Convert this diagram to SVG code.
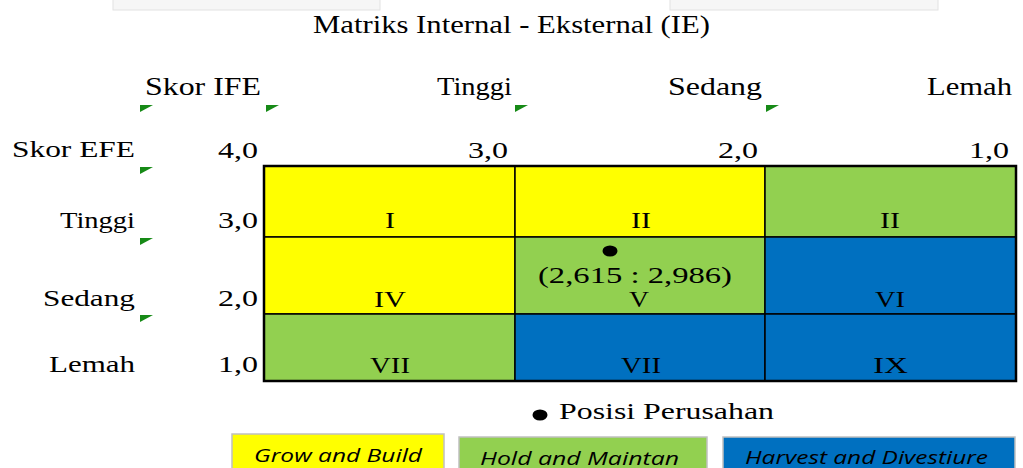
<svg xmlns="http://www.w3.org/2000/svg" width="1023" height="468" viewBox="0 0 1023 468">
  <style>
    .serif { font-family: "Liberation Serif", "Times New Roman", serif; fill: #000; }
    .t-title { font-size: 25px; }
    .t-head { font-size: 25px; }
    .t-axis { font-size: 23px; }
    .t-cell { font-size: 24px; }
    .legend { font-family: "Open Sans", "Liberation Sans", sans-serif; font-style: italic; font-size: 18px; fill: #000; }
    .mark { fill: #168a16; }
    .cell { stroke: #000; stroke-width: 1.5; }
    .yellow { fill: #ffff00; }
    .green { fill: #92d050; }
    .blue { fill: #0070c0; }
    .key { stroke: #c0c0c0; stroke-width: 1.5; }
  </style>
  <defs>
    <path id="tick" d="M0 0 H13 L0 7 Z"/>
  </defs>

  <rect width="1023" height="468" fill="#ffffff"/>

  <!-- faint frames at the top edge -->
  <g id="top-frames" fill="#f6f6f6" stroke="#e2e2e2" stroke-width="1">
    <rect x="113" y="-2" width="267" height="12"/>
    <rect x="670" y="-2" width="268" height="12"/>
  </g>

  <!-- title -->
  <text id="title" class="serif t-title" x="313" y="33" textLength="397" lengthAdjust="spacingAndGlyphs">Matriks Internal - Eksternal (IE)</text>

  <!-- IFE axis header -->
  <g id="ife-axis" class="serif t-head">
    <text x="145" y="95" textLength="116" lengthAdjust="spacingAndGlyphs">Skor IFE</text>
    <text x="437" y="95" textLength="75" lengthAdjust="spacingAndGlyphs">Tinggi</text>
    <text x="668" y="95" textLength="94" lengthAdjust="spacingAndGlyphs">Sedang</text>
    <text x="927" y="95" textLength="85" lengthAdjust="spacingAndGlyphs">Lemah</text>
  </g>

  <!-- score scale -->
  <g id="scale" class="serif t-axis">
    <text x="12" y="157" textLength="123" lengthAdjust="spacingAndGlyphs">Skor EFE</text>
    <text x="218" y="158" textLength="40" lengthAdjust="spacingAndGlyphs">4,0</text>
    <text x="468" y="158" textLength="40" lengthAdjust="spacingAndGlyphs">3,0</text>
    <text x="718" y="158" textLength="40" lengthAdjust="spacingAndGlyphs">2,0</text>
    <text x="969" y="158" textLength="40" lengthAdjust="spacingAndGlyphs">1,0</text>
  </g>

  <!-- EFE row labels -->
  <g id="efe-axis" class="serif t-axis">
    <text x="60" y="228" textLength="75" lengthAdjust="spacingAndGlyphs">Tinggi</text>
    <text x="218" y="228" textLength="40" lengthAdjust="spacingAndGlyphs">3,0</text>
    <text x="43" y="306" textLength="92" lengthAdjust="spacingAndGlyphs">Sedang</text>
    <text x="218" y="306" textLength="40" lengthAdjust="spacingAndGlyphs">2,0</text>
    <text x="49" y="372" textLength="86" lengthAdjust="spacingAndGlyphs">Lemah</text>
    <text x="218" y="372" textLength="40" lengthAdjust="spacingAndGlyphs">1,0</text>
  </g>

  <!-- comment markers -->
  <g id="markers" class="mark">
    <use href="#tick" x="140" y="105"/>
    <use href="#tick" x="266" y="105"/>
    <use href="#tick" x="515" y="105"/>
    <use href="#tick" x="766" y="105"/>
    <use href="#tick" x="140" y="167"/>
    <use href="#tick" x="140" y="238"/>
    <use href="#tick" x="140" y="315"/>
  </g>

  <!-- IE matrix cells -->
  <g id="cell-I"><rect class="cell yellow" x="264" y="166" width="251" height="71"/><text class="serif t-cell" x="385" y="228" textLength="10" lengthAdjust="spacingAndGlyphs">I</text></g>
  <g id="cell-II"><rect class="cell yellow" x="515" y="166" width="250" height="71"/><text class="serif t-cell" x="631" y="228" textLength="20" lengthAdjust="spacingAndGlyphs">II</text></g>
  <g id="cell-III"><rect class="cell green" x="765" y="166" width="251" height="71"/><text class="serif t-cell" x="880" y="228" textLength="20" lengthAdjust="spacingAndGlyphs">II</text></g>
  <g id="cell-IV"><rect class="cell yellow" x="264" y="237" width="251" height="77"/><text class="serif t-cell" x="374" y="307" textLength="32" lengthAdjust="spacingAndGlyphs">IV</text></g>
  <g id="cell-V"><rect class="cell green" x="515" y="237" width="250" height="77"/><text class="serif t-cell" x="629" y="307" textLength="20" lengthAdjust="spacingAndGlyphs">V</text></g>
  <g id="cell-VI"><rect class="cell blue" x="765" y="237" width="251" height="77"/><text class="serif t-cell" x="875" y="307" textLength="30" lengthAdjust="spacingAndGlyphs">VI</text></g>
  <g id="cell-VII"><rect class="cell green" x="264" y="314" width="251" height="67"/><text class="serif t-cell" x="370" y="373" textLength="40" lengthAdjust="spacingAndGlyphs">VII</text></g>
  <g id="cell-VIII"><rect class="cell blue" x="515" y="314" width="250" height="67"/><text class="serif t-cell" x="621" y="373" textLength="40" lengthAdjust="spacingAndGlyphs">VII</text></g>
  <g id="cell-IX"><rect class="cell blue" x="765" y="314" width="251" height="67"/><text class="serif t-cell" x="873" y="373" textLength="35" lengthAdjust="spacingAndGlyphs">IX</text></g>

  <!-- outer frame of the matrix -->
  <rect id="matrix-frame" x="264" y="166" width="752" height="215" fill="none" stroke="#000" stroke-width="2.5"/>

  <!-- company position -->
  <g id="position">
    <ellipse cx="610" cy="251" rx="7.5" ry="5.5" fill="#000"/>
    <text class="serif t-axis" x="538" y="283" textLength="194" lengthAdjust="spacingAndGlyphs">(2,615 : 2,986)</text>
  </g>

  <!-- legend -->
  <g id="legend-position">
    <ellipse cx="540" cy="415" rx="7.5" ry="5.5" fill="#000"/>
    <text class="serif t-axis" x="559" y="419" textLength="215" lengthAdjust="spacingAndGlyphs">Posisi  Perusahan</text>
  </g>
  <g id="legend-grow">
    <rect class="key yellow" x="232" y="434" width="212" height="40"/>
    <text class="legend" x="254" y="462" textLength="168" lengthAdjust="spacingAndGlyphs">Grow and Build</text>
  </g>
  <g id="legend-hold">
    <rect class="key green" x="459" y="437" width="248" height="40"/>
    <text class="legend" x="480" y="465" textLength="199" lengthAdjust="spacingAndGlyphs">Hold and Maintan</text>
  </g>
  <g id="legend-harvest">
    <rect class="key blue" x="723" y="437" width="292" height="40"/>
    <text class="legend" x="745" y="464" textLength="243" lengthAdjust="spacingAndGlyphs">Harvest  and Divestiure</text>
  </g>
</svg>
